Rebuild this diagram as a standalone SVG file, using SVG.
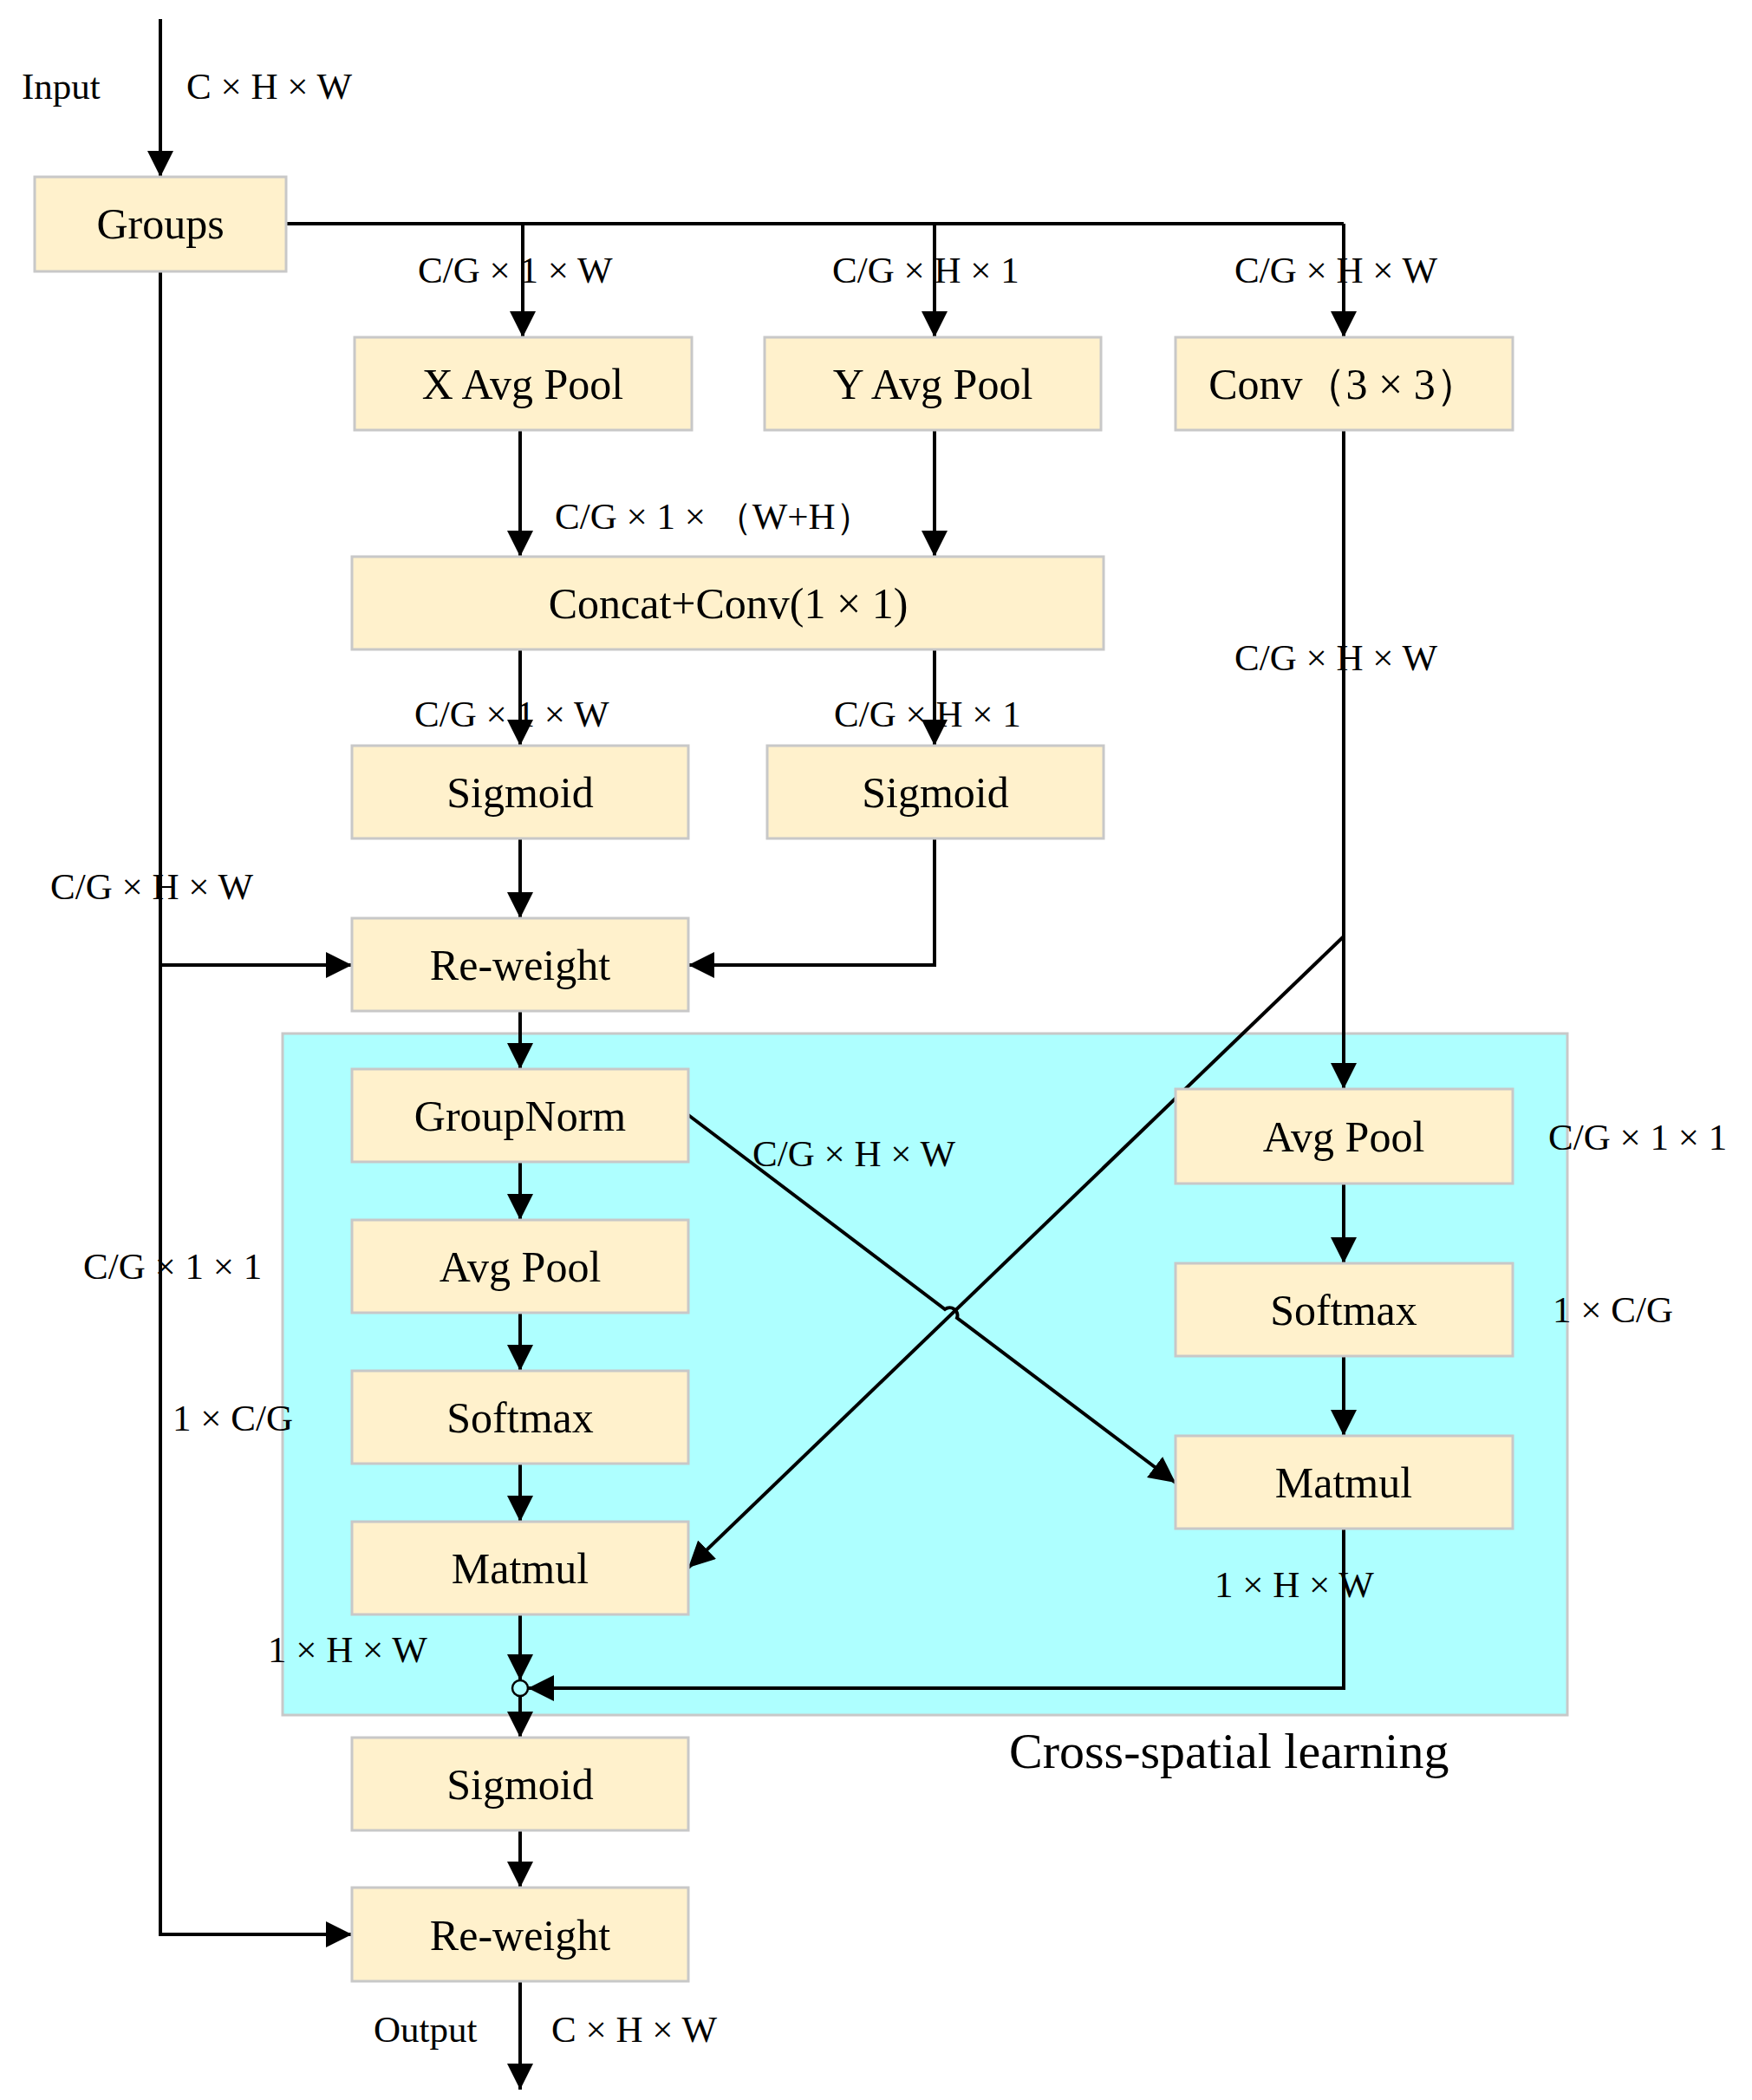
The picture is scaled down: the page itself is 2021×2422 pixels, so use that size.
<svg xmlns="http://www.w3.org/2000/svg" width="2021" height="2422" viewBox="0 0 2021 2422">
<defs>
<marker id="a" viewBox="0 0 10 10" refX="10" refY="5" markerWidth="7" markerHeight="7" markerUnits="userSpaceOnUse" orient="auto"><path d="M0,0 L10,5 L0,10 z" fill="#000"/></marker>
<style>
.b{fill:#fff1cc;stroke:#c8c8c8;stroke-width:3}
.t{font-family:"Liberation Serif",serif;font-size:50px;text-anchor:middle;fill:#000}
.l{font-family:"Liberation Serif",serif;font-size:43px;fill:#000}
.c{fill:none;stroke:#000;stroke-width:4}
.c path,.c line,.c polyline{marker-end:url(#a)}
</style>
<marker id="m" viewBox="0 0 10 10" refX="10" refY="5" markerWidth="30" markerHeight="30" markerUnits="userSpaceOnUse" orient="auto"><path d="M0,0 L10,5 L0,10 z" fill="#000"/></marker>
</defs>
<rect x="0" y="0" width="2021" height="2422" fill="#fff"/>
<rect id="cross" x="326" y="1192" width="1482" height="786" fill="#aeffff" stroke="#c8c8c8" stroke-width="3"/>
<g id="connectors" fill="none" stroke="#000" stroke-width="4">
<g marker-end="url(#m)">
<line x1="185" y1="22" x2="185" y2="204"/>
<line x1="603" y1="258" x2="603" y2="389"/>
<line x1="1078" y1="258" x2="1078" y2="389"/>
<line x1="1550" y1="258" x2="1550" y2="389"/>
<line x1="600" y1="496" x2="600" y2="642"/>
<line x1="1078" y1="496" x2="1078" y2="642"/>
<line x1="600" y1="749" x2="600" y2="860"/>
<line x1="1078" y1="749" x2="1078" y2="860"/>
<line x1="600" y1="967" x2="600" y2="1059"/>
<polyline points="1078,967 1078,1113 794,1113"/>
<polyline points="185,313 185,1113 406,1113"/>
<polyline points="185,1113 185,2231 406,2231"/>
<line x1="600" y1="1166" x2="600" y2="1233"/>
<line x1="1550" y1="496" x2="1550" y2="1256"/>
<line x1="1550" y1="1080" x2="794" y2="1808"/>
<path d="M794,1286 L1090,1510 A9,9 0 0 1 1104,1520 L1356,1710"/>
<line x1="600" y1="1340" x2="600" y2="1407"/>
<line x1="600" y1="1514" x2="600" y2="1581"/>
<line x1="600" y1="1688" x2="600" y2="1755"/>
<line x1="1550" y1="1365" x2="1550" y2="1457"/>
<line x1="1550" y1="1564" x2="1550" y2="1656"/>
<line x1="600" y1="1862" x2="600" y2="1938"/>
<polyline points="1550,1763 1550,1947 609,1947"/>
<line x1="600" y1="1956" x2="600" y2="2004"/>
<line x1="600" y1="2111" x2="600" y2="2177"/>
<line x1="600" y1="2285" x2="600" y2="2410"/>
</g>
<line x1="330" y1="258" x2="1550" y2="258"/>
<circle cx="600" cy="1947" r="9" stroke-width="2.5"/>
</g>
<g id="groups"><rect class="b" x="40" y="204" width="290" height="109"/><text class="t" x="185" y="275">Groups</text></g>
<g id="xpool"><rect class="b" x="409" y="389" width="389" height="107"/><text class="t" x="603" y="460">X Avg Pool</text></g>
<g id="ypool"><rect class="b" x="882" y="389" width="388" height="107"/><text class="t" x="1076" y="460">Y Avg Pool</text></g>
<g id="conv"><rect class="b" x="1356" y="389" width="389" height="107"/><text class="t" x="1550" y="460">Conv（3 × 3）</text></g>
<g id="concat"><rect class="b" x="406" y="642" width="867" height="107"/><text class="t" x="840" y="713">Concat+Conv(1 × 1)</text></g>
<g id="sig1"><rect class="b" x="406" y="860" width="388" height="107"/><text class="t" x="600" y="931">Sigmoid</text></g>
<g id="sig2"><rect class="b" x="885" y="860" width="388" height="107"/><text class="t" x="1079" y="931">Sigmoid</text></g>
<g id="rw1"><rect class="b" x="406" y="1059" width="388" height="107"/><text class="t" x="600" y="1130">Re-weight</text></g>
<g id="gn"><rect class="b" x="406" y="1233" width="388" height="107"/><text class="t" x="600" y="1304">GroupNorm</text></g>
<g id="ap1"><rect class="b" x="406" y="1407" width="388" height="107"/><text class="t" x="600" y="1478">Avg Pool</text></g>
<g id="sm1"><rect class="b" x="406" y="1581" width="388" height="107"/><text class="t" x="600" y="1652">Softmax</text></g>
<g id="mm1"><rect class="b" x="406" y="1755" width="388" height="107"/><text class="t" x="600" y="1826">Matmul</text></g>
<g id="ap2"><rect class="b" x="1356" y="1256" width="389" height="109"/><text class="t" x="1550" y="1328">Avg Pool</text></g>
<g id="sm2"><rect class="b" x="1356" y="1457" width="389" height="107"/><text class="t" x="1550" y="1528">Softmax</text></g>
<g id="mm2"><rect class="b" x="1356" y="1656" width="389" height="107"/><text class="t" x="1550" y="1727">Matmul</text></g>
<g id="sig3"><rect class="b" x="406" y="2004" width="388" height="107"/><text class="t" x="600" y="2075">Sigmoid</text></g>
<g id="rw2"><rect class="b" x="406" y="2177" width="388" height="108"/><text class="t" x="600" y="2249">Re-weight</text></g>
<g id="labels">
<text class="l" x="25" y="114">Input</text>
<text class="l" x="215" y="114">C × H × W</text>
<text class="l" x="482" y="326">C/G × 1 × W</text>
<text class="l" x="960" y="326">C/G × H × 1</text>
<text class="l" x="1424" y="326">C/G × H × W</text>
<text class="l" x="640" y="610">C/G × 1 × （W+H）</text>
<text class="l" x="1424" y="773">C/G × H × W</text>
<text class="l" x="478" y="838">C/G × 1 × W</text>
<text class="l" x="962" y="838">C/G × H × 1</text>
<text class="l" x="58" y="1037">C/G × H × W</text>
<text class="l" x="868" y="1345">C/G × H × W</text>
<text class="l" x="1786" y="1326">C/G × 1 × 1</text>
<text class="l" x="1791" y="1525">1 × C/G</text>
<text class="l" x="96" y="1475">C/G × 1 × 1</text>
<text class="l" x="199" y="1650">1 × C/G</text>
<text class="l" x="309" y="1917">1 × H × W</text>
<text class="l" x="1401" y="1842">1 × H × W</text>
<text class="l" x="431" y="2355">Output</text>
<text class="l" x="636" y="2355">C × H × W</text>
<text class="l" x="1164" y="2039" style="font-size:58px">Cross-spatial learning</text>
</g>
</svg>
